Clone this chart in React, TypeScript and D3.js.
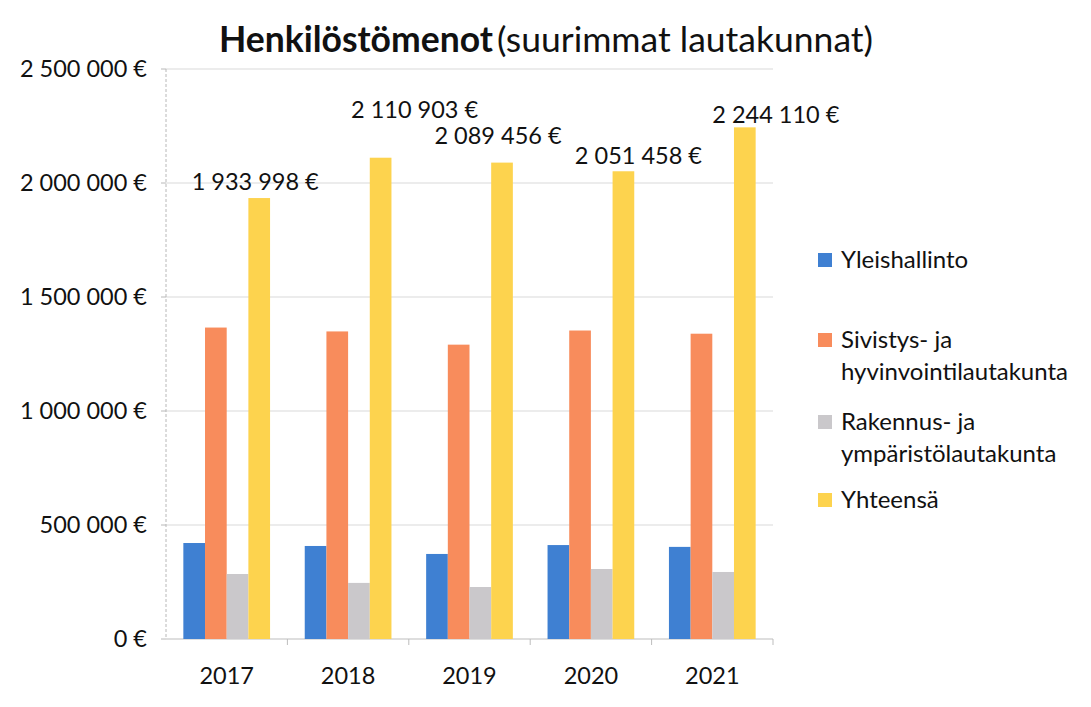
import React from "react";
import * as d3 from "d3";

const years = ["2017", "2018", "2019", "2020", "2021"];
const seriesKeys = ["yleishallinto", "sivistys", "rakennus", "yhteensa"];
const legendLines = [
  ["Yleishallinto"],
  ["Sivistys- ja", "hyvinvointilautakunta"],
  ["Rakennus- ja", "ympäristölautakunta"],
  ["Yhteensä"],
];
const yleishallinto = [421000, 408000, 373000, 412000, 404000];
const sivistys = [1366000, 1349000, 1291000, 1353000, 1339000];
const rakennus = [285000, 246000, 228000, 307000, 294000];
const yhteensa = [1933998, 2110903, 2089456, 2051458, 2244110];
const yTicks = [0, 500000, 1000000, 1500000, 2000000, 2500000];

const seriesValues = [yleishallinto, sivistys, rakennus, yhteensa];
const colors = ["#3f80d2", "#f88c5c", "#cac8cb", "#fdd34e"];
// manual label offsets (dx, dy) relative to top-centre of the total bars
const labelDx = [-4, 34, -4, 15, 31];
const labelDy = [-8, -40, -19, -7, -4];

const W = 1091;
const H = 707;
const left = 166;
const right = 773;
const y0 = 639;
const yTop = 69;
const FONT = "Lato, 'Open Sans', sans-serif";

const fmt = (v: number) => d3.format(",")(v).replace(/,/g, " ") + " €";

export default function App() {
  const x = d3.scaleBand<string>().domain(years).range([left, right]).padding(0);
  const band = x.bandwidth();
  const groupW = band / 1.4;
  const xs = d3
    .scaleBand<string>()
    .domain(seriesKeys)
    .range([(band - groupW) / 2, (band + groupW) / 2])
    .padding(0);
  const y = d3.scaleLinear().domain([0, 2500000]).range([y0, yTop]);

  const legendY = [260, 340, 422, 500];

  return (
    <svg
      width={W}
      height={H}
      style={{ position: "absolute", left: 0, top: 0, background: "#fff" }}
      fontFamily={FONT}
    >
      <rect x={0} y={0} width={W} height={H} fill="#fff" />
      {/* title */}
      <text x={546} y={52} textAnchor="middle" fontSize={35.5} fill="#111">
        <tspan fontWeight="bold">Henkilöstömenot</tspan>
        <tspan dx={4}>(suurimmat lautakunnat)</tspan>
      </text>

      {/* gridlines */}
      {yTicks.map((t) => (
        <line
          key={"g" + t}
          x1={left}
          x2={right}
          y1={y(t)}
          y2={y(t)}
          stroke={t === 0 ? "#bdbdbd" : "#d9d9d9"}
          strokeWidth={1.2}
        />
      ))}
      {/* y axis line */}
      <line x1={left} x2={left} y1={yTop} y2={y0} stroke="#b8b8b8" strokeWidth={1} strokeDasharray="3,2" />
      {yTicks.map((t) => (
        <line key={"yt" + t} x1={left - 5} x2={left} y1={y(t)} y2={y(t)} stroke="#b8b8b8" />
      ))}
      {/* y labels */}
      {yTicks.map((t) => (
        <text
          key={"yl" + t}
          x={147}
          y={y(t)}
          dy="0.35em"
          textAnchor="end"
          fontSize={23.5}
          fill="#111"
        >
          {fmt(t)}
        </text>
      ))}

      {/* x ticks */}
      {years.map((yr) => (
        <line
          key={"xt" + yr}
          x1={(x(yr) as number) + band}
          x2={(x(yr) as number) + band}
          y1={y0}
          y2={y0 + 6}
          stroke="#bdbdbd"
        />
      ))}

      {/* bars */}
      {years.map((yr, i) => (
        <g key={"bars" + yr} transform={`translate(${x(yr)},0)`}>
          {seriesKeys.map((k, s) => (
            <rect
              key={k}
              x={xs(k)}
              y={y(seriesValues[s][i])}
              width={xs.bandwidth()}
              height={y0 - y(seriesValues[s][i])}
              fill={colors[s]}
            />
          ))}
        </g>
      ))}

      {/* total labels */}
      {years.map((yr, i) => (
        <text
          key={"lab" + yr}
          x={(x(yr) as number) + (xs("yhteensa") as number) + xs.bandwidth() / 2 + labelDx[i]}
          y={y(yhteensa[i]) + labelDy[i]}
          textAnchor="middle"
          fontSize={23.5}
          fill="#111"
        >
          {fmt(yhteensa[i])}
        </text>
      ))}

      {/* x labels */}
      {years.map((yr) => (
        <text
          key={"xl" + yr}
          x={(x(yr) as number) + band / 2}
          y={684}
          textAnchor="middle"
          fontSize={23.5}
          fill="#111"
        >
          {yr}
        </text>
      ))}

      {/* legend */}
      {legendLines.map((lines, s) => (
        <g key={"lg" + s} transform={`translate(818,${legendY[s]})`}>
          <rect x={0} y={-7} width={14} height={14} fill={colors[s]} />
          {lines.map((ln, j) => (
            <text key={j} x={23} y={j * 32} dy="0.35em" fontSize={24} fill="#111">
              {ln}
            </text>
          ))}
        </g>
      ))}
    </svg>
  );
}
